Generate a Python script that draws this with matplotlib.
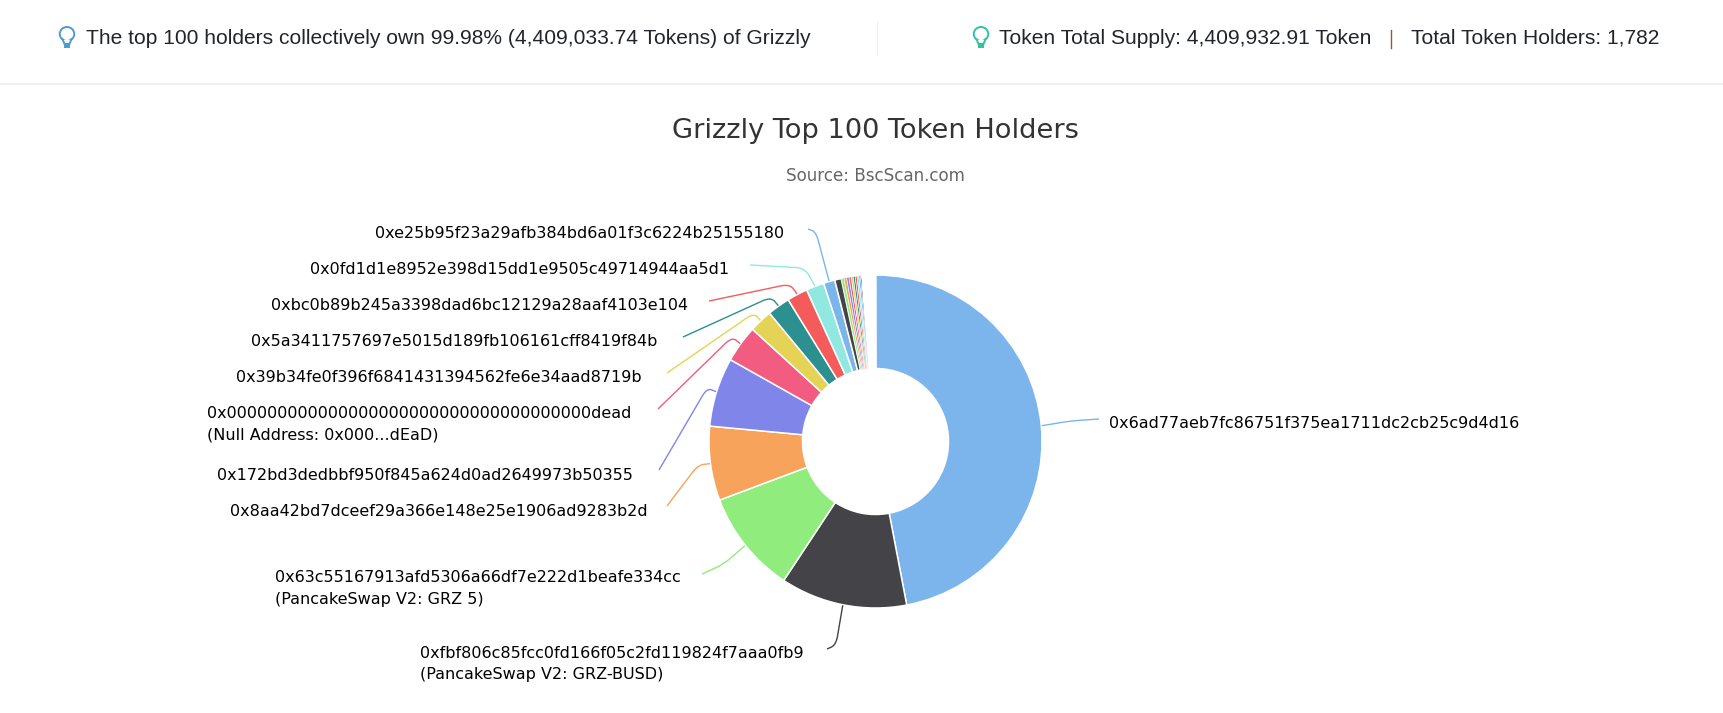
from __future__ import annotations

import matplotlib

matplotlib.use("Agg")
import matplotlib.pyplot as plt
from matplotlib.patches import Ellipse, PathPatch, Rectangle
from matplotlib.path import Path
import numpy as np

W, H = 1723, 713

# Top holders, percent of supply (clockwise from 12h).
top_shares = [47.03, 12.3, 10.0, 7.2, 6.7, 3.6, 2.25, 2.2, 2.0, 1.75, 1.1, 0.64]
# The rest of the top 100: a few thin stripes and then slices too small to show.
stripe_shares = [0.27, 0.25, 0.23, 0.21, 0.20, 0.19, 0.18, 0.17, 0.16, 0.15]
tiny_shares = [
    0.03, 0.03, 0.03, 0.03, 0.03, 0.03, 0.03, 0.03,
    0.02, 0.02, 0.02, 0.02, 0.02, 0.02, 0.02, 0.02, 0.02, 0.02,
    0.02, 0.02, 0.02, 0.02, 0.02, 0.02, 0.02, 0.02, 0.02, 0.02,
    0.02, 0.02, 0.02, 0.02, 0.02, 0.02, 0.02, 0.02, 0.02, 0.02,
    0.02, 0.02, 0.02, 0.02, 0.02,
    0.01, 0.01, 0.01, 0.01, 0.01, 0.01, 0.01, 0.01, 0.01, 0.01,
    0.01, 0.01, 0.01, 0.01, 0.01, 0.01, 0.01, 0.01, 0.01, 0.01,
    0.01, 0.01, 0.01, 0.01, 0.01, 0.01, 0.01, 0.01, 0.01, 0.01,
    0.01, 0.01, 0.01, 0.01, 0.01,
]
holder_labels = [
    "0x6ad77aeb7fc86751f375ea1711dc2cb25c9d4d16",
    "0xfbf806c85fcc0fd166f05c2fd119824f7aaa0fb9\n(PancakeSwap V2: GRZ-BUSD)",
    "0x63c55167913afd5306a66df7e222d1beafe334cc\n(PancakeSwap V2: GRZ 5)",
    "0x8aa42bd7dceef29a366e148e25e1906ad9283b2d",
    "0x172bd3dedbbf950f845a624d0ad2649973b50355",
    "0x000000000000000000000000000000000000dead\n(Null Address: 0x000...dEaD)",
    "0x39b34fe0f396f6841431394562fe6e34aad8719b",
    "0x5a3411757697e5015d189fb106161cff8419f84b",
    "0xbc0b89b245a3398dad6bc12129a28aaf4103e104",
    "0x0fd1d1e8952e398d15dd1e9505c49714944aa5d1",
    "0xe25b95f23a29afb384bd6a01f3c6224b25155180",
]
palette = ["#7cb5ec", "#434348", "#90ed7d", "#f7a35c", "#8085e9",
            "#f15c80", "#e4d354", "#2b908f", "#f45b5b", "#91e8e1"]

# Layout, pixels from the top-left corner of the image.
CX, CY, R, R_IN = 875.5, 441.5, 166.5, 73
LABEL_POS = [(1109, 424), (420, 653), (275, 578), (230, 511), (217, 475),
             (207, 413), (236, 377), (251, 341), (271, 305), (310, 269), (375, 234)]
LINE_GAP = 21.5
CONNECTOR_START = [(1099, 419), (827, 649), (702, 574), (667, 506), (659, 470),
                   (658, 409), (667, 373), (683, 337), (709, 301), (750, 265), (808, 229)]
CONNECTOR_KNEE = [(1070, 421), (836, 645), (724, 564), (698, 465), (707, 388),
                  (732, 337), (754, 313), (771, 297), (790, 284), (805, 268), (816, 232)]

fig = plt.figure(figsize=(W / 100, H / 100), dpi=100, facecolor="white")
ax = fig.add_axes([0, 0, 1, 1])

shares = top_shares + stripe_shares + tiny_shares
colors = [palette[i % len(palette)] for i in range(len(shares))]
wedges, _ = ax.pie(
    shares,
    colors=colors,
    startangle=90,
    counterclock=False,
    center=(CX, H - CY),
    radius=R,
    wedgeprops={"width": R - R_IN, "edgecolor": "white", "linewidth": 1.1},
)
# thinner borders on the stripes, otherwise the white eats them
first_stripe = len(top_shares)
first_tiny = first_stripe + len(stripe_shares)
for wedge in wedges[first_stripe:first_tiny]:
    wedge.set_linewidth(0.4)
# below a pixel wide only the white border of these is left on screen
for wedge in wedges[first_tiny:]:
    wedge.set_facecolor("white")
ax.set_xlim(0, W)
ax.set_ylim(0, H)
ax.set_aspect("equal")
ax.axis("off")


def rounded_path(start, knee, end, radius=9.0):
    """Polyline start-knee-end with the knee rounded off, in top-left pixels."""
    p0, p1, p2 = (np.array(p, dtype=float) for p in (start, knee, end))
    a = p1 + (p0 - p1) / max(np.linalg.norm(p0 - p1), 1e-6) * min(radius, np.linalg.norm(p0 - p1) / 2)
    b = p1 + (p2 - p1) / max(np.linalg.norm(p2 - p1), 1e-6) * min(radius, np.linalg.norm(p2 - p1) / 2)
    verts = [p0, a, p1, b, p2]
    codes = [Path.MOVETO, Path.LINETO, Path.CURVE3, Path.CURVE3, Path.LINETO]
    return Path([(x, H - y) for x, y in verts], codes)


# Connectors end on the rim at each slice's mid angle.
total = sum(shares)
cum = np.cumsum(shares)
for i, label in enumerate(holder_labels):
    mid = np.deg2rad((cum[i] - shares[i] / 2) / total * 360)
    rim = (CX + (R + 0.5) * np.sin(mid), CY - (R + 0.5) * np.cos(mid))
    ax.add_patch(PathPatch(rounded_path(CONNECTOR_START[i], CONNECTOR_KNEE[i], rim),
                           fc="none", ec=colors[i], lw=1.0))
    x, y = LABEL_POS[i]
    for j, line in enumerate(label.split("\n")):
        ax.text(x, H - (y + j * LINE_GAP), line, fontsize=11.55, color="black",
                family="DejaVu Sans", ha="left", va="center")

ax.text(CX, H - 131, "Grizzly Top 100 Token Holders", fontsize=19.6, color="#333333",
        family="DejaVu Sans", ha="center", va="center")
ax.text(CX, H - 176, "Source: BscScan.com", fontsize=12.1, color="#666666",
        family="DejaVu Sans", ha="center", va="center")

# Page header above the chart.
header = {"family": "Liberation Sans", "fontsize": 15.1, "color": "#212529", "va": "center"}
ax.text(86, H - 38, "The top 100 holders collectively own 99.98% (4,409,033.74 Tokens) of Grizzly",
        ha="left", **header)
ax.text(999, H - 38, "Token Total Supply: 4,409,932.91 Token", ha="left", **header)
ax.text(1411, H - 38, "Total Token Holders: 1,782", ha="left", **header)
ax.plot([1391, 1391], [H - 30, H - 48], color="#8a5a44", lw=1)
ax.plot([876.5, 876.5], [H - 22, H - 55], color="#f0f0f0", lw=1)
ax.plot([0, W], [H - 84, H - 84], color="#eeeeee", lw=1.2)


def bulb(x, color):
    """Small light-bulb outline used in front of the header texts."""
    ax.add_patch(Ellipse((x, H - 34), 14.5, 14, fc="white", ec=color, lw=1.4))
    ax.add_patch(Rectangle((x - 3, H - 46), 6, 6, fc="white", ec="none"))
    ax.plot([x - 4.5, x - 2.5], [H - 39, H - 44], color=color, lw=1.4)
    ax.plot([x + 4.5, x + 2.5], [H - 39, H - 44], color=color, lw=1.4)
    ax.add_patch(Rectangle((x - 3, H - 48), 6, 5, fc=color, ec="none"))


bulb(67, "#4f9bd1")
bulb(981, "#2fc4a2")

fig.savefig("out.png", dpi=100)
plt.close(fig)
